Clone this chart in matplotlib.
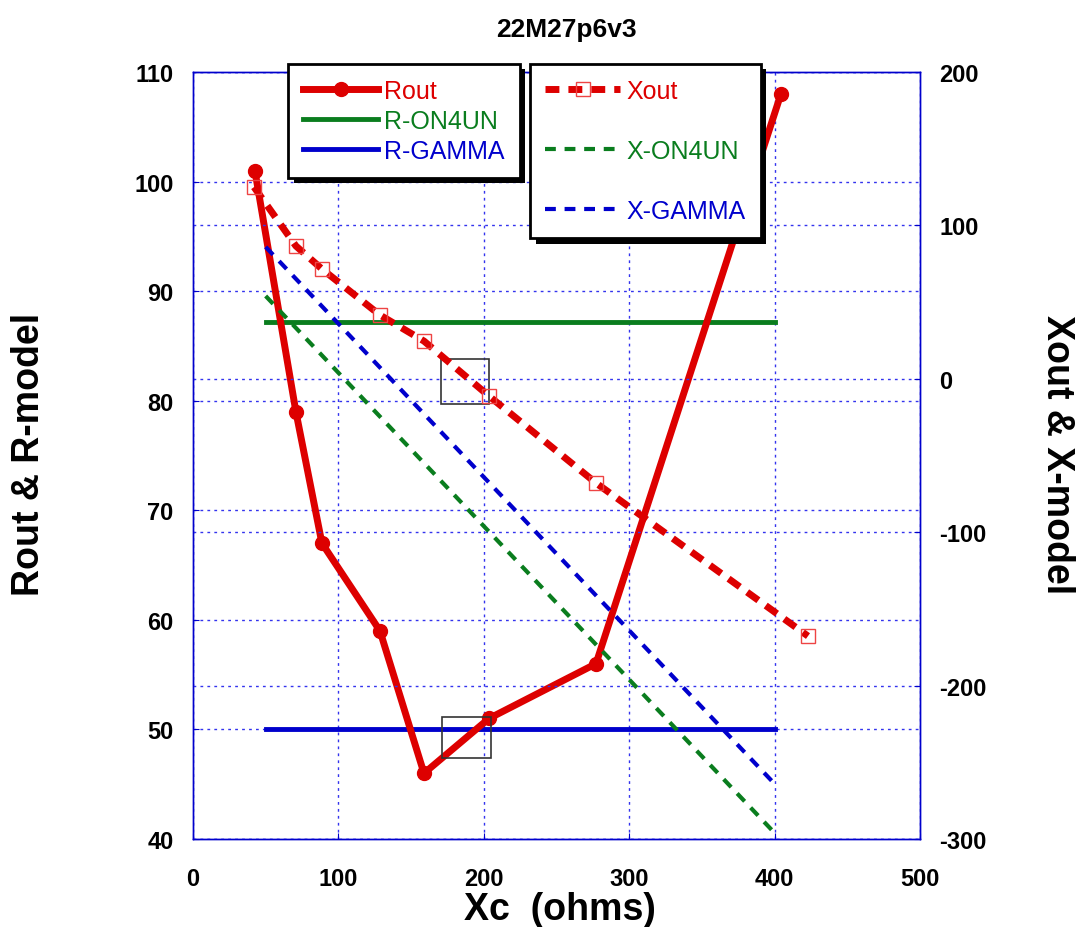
import matplotlib
matplotlib.use("Agg")
import matplotlib.pyplot as plt
import matplotlib.patheffects as pe
from matplotlib.patches import Rectangle

plt.rcParams['font.family'] = ['Liberation Sans', 'DejaVu Sans']
plt.rcParams['axes.unicode_minus'] = False

# Rout / Xout measured
xc_r = [42.6, 70.8, 88.7, 128.6, 158.9, 203.6, 277.2, 404.4]
rout = [101, 79, 67, 59, 46, 51, 56, 108]
xc_x = [42, 70.8, 88.7, 128.6, 158.9, 203.6, 277.2, 423]
xout = [125, 86.6, 71.6, 41.6, 24.6, -11.2, -67.9, -167.7]

# models
xc_m = [50, 100, 200, 300, 400]
r_on4un = [87.2, 87.2, 87.2, 87.2, 87.2]
r_gamma = [50, 50, 50, 50, 50]
x_on4un = [54, 4, -96, -196, -296]
x_gamma = [86, 36, -64, -164, -264]

RED = '#dd0000'
GREEN = '#0a7d1e'
BLUE = '#0000cc'
GRIDC = '#3333ee'

fig = plt.figure(figsize=(10.81, 9.28), dpi=100)
ax = fig.add_axes([0.1785, 0.0948, 0.6725, 0.8265])
ax2 = ax.twinx()

ax.set_xlim(0, 500)
ax.set_ylim(40, 110)
ax2.set_ylim(-300, 200)
ax.set_xticks(range(0, 501, 100))
ax.set_yticks(range(40, 111, 10))
ax2.set_yticks(range(-300, 201, 100))

dot = (0, (2, 3))
ax.grid(True, color=GRIDC, linestyle=dot, linewidth=1)
ax2.grid(True, axis='y', color=GRIDC, linestyle=dot, linewidth=1)
ax.set_axisbelow(True)

for a in (ax, ax2):
    for s in a.spines.values():
        s.set_color(BLUE)
        s.set_linewidth(1)
    a.tick_params(labelcolor='black', color=BLUE, labelsize=17, direction='in', length=4)
    for lb in a.get_xticklabels() + a.get_yticklabels():
        lb.set_fontweight('bold')
ax.tick_params(axis='x', pad=20)
ax.tick_params(axis='y', pad=14)
ax2.tick_params(axis='y', pad=14)

# lines on left axis
l1, = ax.plot(xc_r, rout, color=RED, lw=5, marker='o', ms=10, zorder=5, label='Rout')
l2, = ax.plot(xc_m, r_on4un, color=GREEN, lw=3.5, label='R-ON4UN')
l3, = ax.plot(xc_m, r_gamma, color=BLUE, lw=3.5, label='R-GAMMA')

# lines on right axis
l4, = ax2.plot(xc_x, xout, color=RED, lw=5, ls=(0, (2, 1.3)), marker='s', ms=10,
               mfc='none', mec='#ee4444', mew=1, label='Xout')
l5, = ax2.plot(xc_m, x_on4un, color=GREEN, lw=3, ls=(0, (2.6, 2.1)), label='X-ON4UN')
l6, = ax2.plot(xc_m, x_gamma, color=BLUE, lw=3, ls=(0, (2.6, 2.1)), label='X-GAMMA')

# zoom boxes
ax.add_patch(Rectangle((170.6, 79.7), 33, 4.1, fill=False, ec='#333333', lw=1.2, zorder=6))
ax.add_patch(Rectangle((171, 47.4), 34, 3.7, fill=False, ec='#333333', lw=1.2, zorder=6))

leg1 = ax2.legend([l1, l2, l3], ['Rout', 'R-ON4UN', 'R-GAMMA'],
                  loc='upper left', bbox_to_anchor=(0.131, 1.011), fontsize=18,
                  frameon=True, fancybox=False, framealpha=1, edgecolor='black',
                  handlelength=3.0, labelspacing=0.24, borderpad=0.6,
                  handletextpad=0.25, borderaxespad=0)
for t, c in zip(leg1.get_texts(), [RED, GREEN, BLUE]):
    t.set_color(c)
ax2.add_artist(leg1)

leg2 = ax2.legend([l4, l5, l6], ['Xout', 'X-ON4UN', 'X-GAMMA'],
                  loc='upper left', bbox_to_anchor=(0.464, 1.011), fontsize=18,
                  frameon=True, fancybox=False, framealpha=1, edgecolor='black',
                  handlelength=3.0, labelspacing=1.45, borderpad=0.6,
                  handletextpad=0.25, borderaxespad=0)
for t, c in zip(leg2.get_texts(), [RED, GREEN, BLUE]):
    t.set_color(c)

for lg in (leg1, leg2):
    lg.set_zorder(20)
    fr = lg.get_frame()
    fr.set_linewidth(2)
    fr.set_path_effects([pe.SimplePatchShadow(offset=(4, -4), shadow_rgbFace='black', alpha=1),
                         pe.Normal()])

fig.text(0.524, 0.968, '22M27p6v3', fontsize=19, fontweight='bold', ha='center', va='center')
fig.text(0.518, 0.019, 'Xc  (ohms)', fontsize=27, fontweight='bold', ha='center', va='center')
fig.text(0.027, 0.51, 'Rout & R-model', fontsize=27, fontweight='bold', ha='center',
         va='center', rotation=90)
fig.text(0.978, 0.51, 'Xout & X-model', fontsize=27, fontweight='bold', ha='center',
         va='center', rotation=270)

fig.savefig('out.png', dpi=100)
